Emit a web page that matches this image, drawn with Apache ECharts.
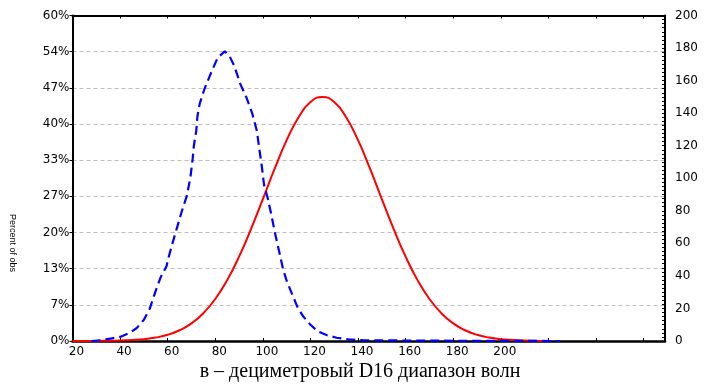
<!DOCTYPE html>
<html><head><meta charset="utf-8">
<script src="https://cdn.jsdelivr.net/npm/echarts@6.0.0/dist/echarts.min.js"></script>
<style>html,body{margin:0;padding:0;background:#fff}#c{width:711px;height:390px}</style>
</head><body><div id="c"></div>
<script>
// Tick labels
const xTickLabels = ['20','40','60','80','100','120','140','160','180','200'];
const pctLabels = ['0%','7%','13%','20%','27%','33%','40%','47%','54%','60%'];
const countLabels = ['0','20','40','60','80','100','120','140','160','180','200'];

// Blue dashed (empirical) curve, counts on right axis
const blueX = [28,32,36,40,44,47,50,52.5,55,57,59.5,60.5,62,64,66,68,69.5,70.5,71,72,72.5,73.5,75.5,78,81,84,86,88,90.5,93,95.5,97.5,98.5,99.5,100.5,102,103.5,105,107,108.5,110,112.5,114.5,117,120,123,127,131,136,142,150,160,175,190,205,225];
const blueY = [0,0.5,1.5,2.5,5,8,13,20,31,39,46,52,60,70,80,89,100,112,120,129,138,146,155,164,174,178,175,169,158,150,140,129,118,108,96,88,78,67,54,44,37,28,21,15,10,6,3.5,2,1,0.5,0.4,0.3,0.2,0.1,0.05,0];

// Red (fitted) curve, counts on right axis
const redX = [20,25,30,35,40,45,50,55,60,65,70,75,80,85,90,95,100,105,110,115,120,125,130,135,140,145,150,155,160,165,170,175,180,185,190,195,200,205,210,215,220];
const redY = [0.01,0.02,0.06,0.14,0.28,0.6,1.1,2.1,3.8,6.6,10.8,17.1,25.8,37.4,51.8,68.7,87.2,106,123.4,137.5,146.8,150,146.8,137.5,123.4,106,87.2,68.7,51.8,37.4,25.8,17.1,10.8,6.6,3.8,2.1,1.1,0.6,0.28,0.14,0.06];

const xMin = 20, xMax = 269;
const font = 'DejaVu Sans';

const chart = echarts.init(document.getElementById('c'), null, {renderer: 'canvas'});
chart.setOption({
  animation: false,
  backgroundColor: '#fff',
  grid: {left: 72.5, right: 46, top: 15.5, bottom: 49, containLabel: false, outerBoundsMode: 'none'},
  xAxis: [{
    type: 'value', position: 'bottom', min: xMin, max: xMax, interval: 20,
    axisLine: {show: true, onZero: false, lineStyle: {color: '#000', width: 2.5}},
    axisTick: {show: true, inside: true, length: 3, lineStyle: {color: '#000', width: 1}},
    axisLabel: {
      show: true, margin: 5, color: '#000', fontFamily: font, fontSize: 12,
      padding: [0, 0, 0, 8],
      formatter: v => xTickLabels.includes(String(v)) ? String(v) : ''
    },
    splitLine: {show: false}
  }, {
    type: 'value', position: 'top', min: xMin, max: xMax, interval: 20,
    axisLine: {show: true, onZero: false, lineStyle: {color: '#000', width: 2}},
    axisTick: {show: true, inside: true, length: 3, lineStyle: {color: '#000', width: 1}},
    axisLabel: {show: false},
    splitLine: {show: false}
  }],
  yAxis: [{
    type: 'value', position: 'left', min: 0, max: 60, interval: 60 / 9,
    axisLine: {show: true, onZero: false, lineStyle: {color: '#000', width: 2}},
    axisTick: {show: true, inside: false, length: 3, lineStyle: {color: '#000', width: 1}},
    axisLabel: {
      show: true, margin: 3, color: '#000', fontFamily: font, fontSize: 12,
      formatter: v => pctLabels[Math.round(v / (60 / 9))]
    },
    splitLine: {show: true, lineStyle: {color: '#bdbdbd', width: 1, type: [4, 3]}}
  }, {
    type: 'value', position: 'right', min: 0, max: 200, interval: 20,
    axisLine: {show: true, onZero: false, lineStyle: {color: '#000', width: 2}},
    axisTick: {show: true, inside: true, length: 3, lineStyle: {color: '#000', width: 1}},
    minorTick: {show: true, splitNumber: 8, length: 3, lineStyle: {color: '#000', width: 1}},
    axisLabel: {
      show: true, margin: 10, color: '#000', fontFamily: font, fontSize: 12,
      formatter: v => countLabels[Math.round(v / 20)]
    },
    splitLine: {show: false}
  }],
  series: [{
    type: 'line', xAxisIndex: 0, yAxisIndex: 1,
    data: blueX.map((x, i) => [x, blueY[i]]),
    showSymbol: false, symbol: 'none', smooth: false,
    lineStyle: {color: '#0000ff', width: 2.2, type: [9, 5]},
    z: 3
  }, {
    type: 'line', xAxisIndex: 0, yAxisIndex: 1,
    data: redX.map((x, i) => [x, redY[i]]),
    showSymbol: false, symbol: 'none', smooth: true,
    lineStyle: {color: '#ff0000', width: 2},
    z: 2
  }],
  graphic: [{
    type: 'text', x: 12, y: 243, rotation: -Math.PI / 2,
    style: {text: 'Percent of obs', fill: '#000', font: '9px "Liberation Sans", Arial, sans-serif', align: 'center', verticalAlign: 'middle'}
  }, {
    type: 'text', x: 360, y: 372,
    style: {text: 'в – дециметровый D16 диапазон волн', fill: '#000', font: '20px "Liberation Serif", "Times New Roman", serif', align: 'center', verticalAlign: 'middle'}
  }]
});
</script>
</body></html>
